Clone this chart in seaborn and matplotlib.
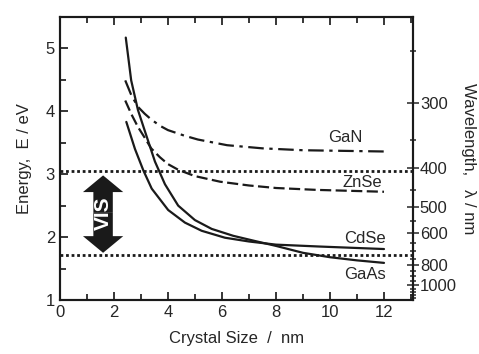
import seaborn as sns
import matplotlib.pyplot as plt
import pandas as pd
from matplotlib.patches import FancyArrowPatch
from matplotlib.ticker import MultipleLocator

sns.set_style("ticks")
plt.rcParams['font.family'] = ['Liberation Sans', 'DejaVu Sans']

# 能隙 vs 粒径（从图上读出的点）
size_gaas = [2.44, 2.64, 2.89, 3.15, 3.52, 3.89, 4.38, 5.0, 5.62, 6.42, 7.2, 8.0, 9.0, 10.0, 11.0, 12.0]
e_gaas = [5.17, 4.49, 4.02, 3.68, 3.20, 2.84, 2.50, 2.27, 2.13, 2.02, 1.94, 1.86, 1.75, 1.68, 1.63, 1.59]

size_cdse = [2.46, 2.78, 3.09, 3.40, 4.01, 4.63, 5.25, 6.11, 7.0, 8.0, 9.6, 12.0]
e_cdse = [3.83, 3.40, 3.06, 2.77, 2.43, 2.23, 2.10, 1.99, 1.93, 1.88, 1.85, 1.81]

size_znse = [2.42, 2.65, 2.89, 3.14, 3.38, 3.7, 4.0, 4.38, 4.99, 5.93, 7.0, 8.0, 9.5, 12.0]
e_znse = [4.17, 3.95, 3.75, 3.58, 3.41, 3.27, 3.16, 3.07, 2.97, 2.88, 2.82, 2.78, 2.75, 2.72]

size_gan = [2.42, 2.65, 2.89, 3.14, 3.38, 3.7, 4.0, 4.62, 5.11, 6.19, 7.5, 9.0, 10.5, 12.0]
e_gan = [4.49, 4.25, 4.07, 3.96, 3.87, 3.77, 3.70, 3.61, 3.55, 3.46, 3.41, 3.38, 3.37, 3.36]

materials = ["GaN", "ZnSe", "CdSe", "GaAs"]
label_x = [10.56, 11.2, 11.3, 11.3]
label_e = [3.59, 2.87, 1.98, 1.41]

vis_top, vis_bottom = 3.05, 1.72   # 可见光范围（虚线）
wl_major = [300, 400, 500, 600, 800, 1000]
wl_minor = [250, 350, 450, 550, 650, 700, 750, 850, 900, 950, 1050, 1100, 1150, 1200]

df = pd.concat([
    pd.DataFrame({"size": size_gan, "E": e_gan, "mat": "GaN"}),
    pd.DataFrame({"size": size_znse, "E": e_znse, "mat": "ZnSe"}),
    pd.DataFrame({"size": size_cdse, "E": e_cdse, "mat": "CdSe"}),
    pd.DataFrame({"size": size_gaas, "E": e_gaas, "mat": "GaAs"}),
])

fig = plt.figure(figsize=(4.79, 3.54), dpi=100)
ax = fig.add_axes([0.125, 0.1525, 0.737, 0.800])

sns.lineplot(data=df, x="size", y="E", hue="mat", style="mat",
             palette={m: "#1a1a1a" for m in materials},
             dashes={"GaN": (7, 2.5, 1.5, 2.5), "ZnSe": (5, 2), "CdSe": "", "GaAs": ""},
             estimator=None, sort=True, lw=1.6, legend=False, ax=ax)

ax.axhline(vis_top, color="#1a1a1a", ls=(0, (1, 1)), lw=2)
ax.axhline(vis_bottom, color="#1a1a1a", ls=(0, (1, 1)), lw=2)

for m, lx, ly in zip(materials, label_x, label_e):
    ax.text(lx, ly, m, fontsize=12, ha="center", va="center")

# VIS 双向箭头
mid = (vis_top + vis_bottom) / 2
for end in [vis_top - 0.07, vis_bottom + 0.03]:
    ax.add_patch(FancyArrowPatch((1.6, mid), (1.6, end),
                                 arrowstyle="simple,head_length=12,head_width=29,tail_width=14",
                                 mutation_scale=1, color="#1a1a1a", lw=0,
                                 shrinkA=0, shrinkB=0))
ax.text(1.6, mid, "VIS", color="white", fontsize=15, fontweight="bold",
        rotation=90, ha="center", va="center")

ax.set_xlim(0, 13.07)
ax.set_ylim(1, 5.5)
ax.xaxis.set_major_locator(MultipleLocator(2))
ax.xaxis.set_minor_locator(MultipleLocator(1))
ax.yaxis.set_major_locator(MultipleLocator(1))
ax.yaxis.set_minor_locator(MultipleLocator(0.5))
ax.tick_params(which="both", direction="in", top=True, right=False, labelsize=12, width=1.3)
ax.tick_params(which="major", length=6)
ax.tick_params(which="minor", length=4)
ax.set_xticks(range(0, 13, 2))
ax.set_xlabel("Crystal Size  /  nm", fontsize=12, labelpad=8)
ax.set_ylabel("Energy,  E / eV", fontsize=12, labelpad=10)

# 右侧波长轴
ax2 = ax.twinx()
ax2.set_ylim(ax.get_ylim())
ax2.set_yticks([1240 / w for w in wl_major])
ax2.set_yticklabels([str(w) for w in wl_major])
ax2.set_yticks([1240 / w for w in wl_minor], minor=True)
ax2.tick_params(which="both", direction="inout", labelsize=12, width=1.1, pad=1)
ax2.tick_params(which="major", length=8)
ax2.tick_params(which="minor", length=5)
ax2.set_ylabel("Wavelength,   λ / nm", fontsize=12, rotation=270, labelpad=14)

for a in (ax, ax2):
    for s in a.spines.values():
        s.set_linewidth(1.5)
        s.set_color("#1a1a1a")
        s.set_visible(True)

fig.savefig("out.png", dpi=100)
